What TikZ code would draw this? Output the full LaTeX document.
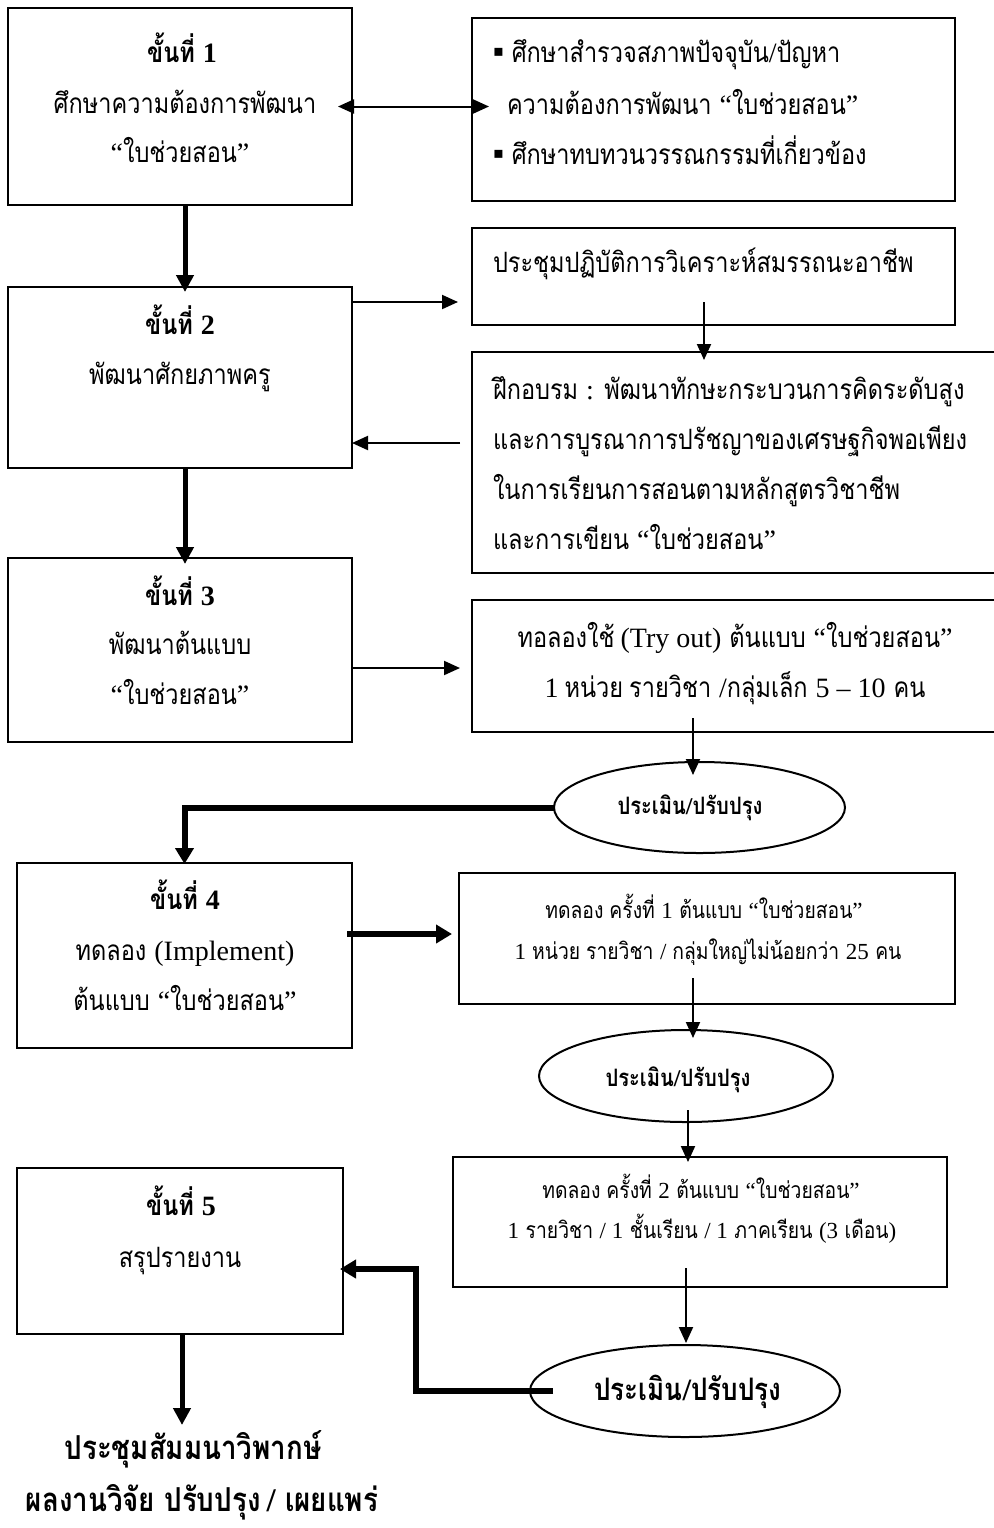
\documentclass[tikz,border=0pt]{standalone}
\usepackage{fontspec}
\setmainfont{Liberation Serif}
\newfontfamily\tf[Script=Thai,FakeStretch=0.84]{Loma}
\newfontfamily\dv{DejaVu Sans}
\usetikzlibrary{arrows.meta,shapes.geometric,calc}
\newcommand\lt[1]{{\rmfamily #1}}
\newcommand\bul{{\dv\fontsize{8}{8}\selectfont\raisebox{3pt}{▪}}}
\newcommand\gapsp{\hspace{3pt}}
\tikzset{
  box/.style={draw, line width=1pt, rectangle, inner sep=0pt, outer sep=0pt},
  openbox/.style={rectangle, inner sep=0pt, outer sep=0pt},
  oval/.style={draw, line width=1pt, ellipse, inner sep=0pt, outer sep=0pt},
  txt/.style={inner sep=0pt, outer sep=0pt, anchor=base, font=\tf\fontsize{14}{17}\selectfont},
  ltxt/.style={txt, anchor=base west},
  btxt/.style={txt, font=\tf\bfseries\fontsize{14}{17}\selectfont},
  stxt/.style={txt, font=\tf\fontsize{11.5}{14}\selectfont},
  etxt/.style={txt, font=\tf\bfseries\fontsize{12}{15}\selectfont},
  e3txt/.style={txt, font=\tf\bfseries\fontsize{15.5}{18}\selectfont},
  ftxt/.style={txt, font=\tf\bfseries\fontsize{16.5}{19}\selectfont},
  thinarr/.style={line width=1pt, -{Triangle[length=8pt,width=7pt]}},
  dblarr/.style={line width=1pt, {Triangle[length=8pt,width=7pt]}-{Triangle[length=8pt,width=7pt]}},
  thickarr/.style={line width=2.5pt, -{Triangle[length=8.5pt,width=8.5pt]}},
  elbowarr/.style={line width=3pt, -{Triangle[length=8pt,width=9pt]}}
}
\begin{document}
\begin{tikzpicture}[x=0.5pt,y=-0.5pt]
\useasboundingbox[fill=white] (0,0) rectangle (993,1528);

% boxes
\node[box, minimum width=172pt, minimum height=98.5pt] (b1) at (180,106.5) {};
\node[box, minimum width=241.5pt, minimum height=91.5pt] (r1) at (713.5,109.5) {};
\node[box, minimum width=172pt, minimum height=90.5pt] (b2) at (180,377.5) {};
\node[box, minimum width=241.5pt, minimum height=48.5pt] (r2) at (713.5,276.5) {};
\node[openbox, minimum width=264pt, minimum height=110.5pt] (r3) at (736,462.5) {};
\draw[line width=1pt] (r3.north east) -- (r3.north west) -- (r3.south west) -- (r3.south east);
\node[box, minimum width=172pt, minimum height=92pt] (b3) at (180,650) {};
\node[openbox, minimum width=264pt, minimum height=66pt] (r4) at (736,666) {};
\draw[line width=1pt] (r4.north east) -- (r4.north west) -- (r4.south west) -- (r4.south east);
\node[oval, minimum width=145.5pt, minimum height=45.5pt] (e1) at (699.5,807.5) {};
\node[box, minimum width=167.5pt, minimum height=92.5pt] (b4) at (184.5,955.5) {};
\node[box, minimum width=248pt, minimum height=65.5pt] (r5) at (707,938.5) {};
\node[oval, minimum width=147pt, minimum height=46pt] (e2) at (686,1076) {};
\node[box, minimum width=247pt, minimum height=65pt] (r6) at (700,1222) {};
\node[box, minimum width=163pt, minimum height=83pt] (b5) at (180,1251) {};
\node[oval, minimum width=155pt, minimum height=46pt] (e3) at (685,1391) {};

% texts
\node[btxt] (b1a) at (182,62) {ขั้นที่ \lt{1}};
\node[txt] (b1b) at (185,113) {ศึกษาความต้องการพัฒนา};
\node[txt] (b1c) at (180,162) {\lt{“}ใบช่วยสอน\lt{”}};

\node[ltxt] (r1a) at (493,62) {\bul\ ศึกษาสำรวจสภาพปัจจุบัน\lt{/}ปัญหา};
\node[ltxt] (r1b) at (507,114) {ความต้องการพัฒนา \lt{“}ใบช่วยสอน\lt{”}};
\node[ltxt] (r1c) at (493,164) {\bul\ ศึกษาทบทวนวรรณกรรมที่เกี่ยวข้อง};

\node[btxt] (b2a) at (180,334) {ขั้นที่ \lt{2}};
\node[txt] (b2b) at (180,384) {พัฒนาศักยภาพครู};

\node[ltxt] (r2a) at (493,272) {ประชุมปฏิบัติการวิเคราะห์สมรรถนะอาชีพ};

\node[ltxt] (r3a) at (493,399) {ฝึกอบรม \lt{:} พัฒนาทักษะกระบวนการคิดระดับสูง};
\node[ltxt] (r3b) at (493,449) {และการบูรณาการปรัชญาของเศรษฐกิจพอเพียง};
\node[ltxt] (r3c) at (493,499) {ในการเรียนการสอนตามหลักสูตรวิชาชีพ};
\node[ltxt] (r3d) at (493,549) {และการเขียน \lt{“}ใบช่วยสอน\lt{”}};

\node[btxt] (b3a) at (180,605) {ขั้นที่ \lt{3}};
\node[txt] (b3b) at (180,654) {พัฒนาต้นแบบ};
\node[txt] (b3c) at (180,704) {\lt{“}ใบช่วยสอน\lt{”}};

\node[txt] (r4a) at (735,647) {ทอลองใช้\gapsp\lt{(Try out)} ต้นแบบ \lt{“}ใบช่วยสอน\lt{”}};
\node[txt] (r4b) at (735,697) {\lt{1}\gapsp หน่วย\gapsp รายวิชา \lt{/}กลุ่มเล็ก \lt{5 – 10} คน};

\node[etxt] (e1t) at (690,814) {ประเมิน\lt{/}ปรับปรุง};

\node[btxt] (b4a) at (185,909) {ขั้นที่ \lt{4}};
\node[txt] (b4b) at (185,960) {ทดลอง \lt{(Implement)}};
\node[txt] (b4c) at (185,1010) {ต้นแบบ \lt{“}ใบช่วยสอน\lt{”}};

\node[stxt] (r5a) at (704,918) {ทดลอง\gapsp ครั้งที่ \lt{1} ต้นแบบ \lt{“}ใบช่วยสอน\lt{”}};
\node[stxt] (r5b) at (708,959) {\lt{1}\gapsp หน่วย\gapsp รายวิชา \lt{/}\gapsp กลุ่มใหญ่ไม่น้อยกว่า \lt{25} คน};

\node[etxt] (e2t) at (678,1086) {ประเมิน\lt{/}ปรับปรุง};

\node[stxt] (r6a) at (701,1198) {ทดลอง\gapsp ครั้งที่ \lt{2} ต้นแบบ \lt{“}ใบช่วยสอน\lt{”}};
\node[stxt] (r6b) at (702,1238) {\lt{1} รายวิชา \lt{/}\gapsp\lt{1} ชั้นเรียน \lt{/ 1} ภาคเรียน \lt{(3} เดือน\lt{)}};

\node[btxt] (b5a) at (181,1215) {ขั้นที่ \lt{5}};
\node[txt] (b5b) at (180,1267) {สรุปรายงาน};

\node[e3txt] (e3t) at (688,1400) {ประเมิน\lt{/}ปรับปรุง};

\node[ftxt] (f1) at (193,1459) {ประชุมสัมมนาวิพากษ์};
\node[ftxt] (f2) at (202,1511) {ผลงานวิจัย ปรับปรุง\gapsp\lt{/} เผยแพร่};

% connectors
\draw[dblarr, shorten <=-7pt, shorten >=-8.5pt] (b1.east) -- (b1.east -| r1.west);
\draw[thickarr, shorten >=-2.5pt] ([xshift=2.5pt]b1.south) -- ([xshift=2.5pt]b2.north);
\coordinate (c1) at ([yshift=-7.5pt]b2.north east);
\draw[thinarr, shorten >=7pt] (c1) -- (c1 -| r2.west);
\coordinate (c2) at ([xshift=-4.75pt,yshift=11.5pt]r2.south);
\draw[thinarr, shorten >=-4pt] (c2) -- (c2 |- r3.north);
\coordinate (c3) at ([xshift=-6pt,yshift=9.75pt]r3.west);
\draw[thinarr] (c3) -- (c3 -| b2.east);
\draw[thickarr, shorten >=-3pt] ([xshift=2.5pt]b2.south) -- ([xshift=2.5pt]b3.north);
\coordinate (c4) at ([yshift=-9pt]b3.east);
\draw[thinarr, shorten >=6pt] (c4) -- (c4 -| r4.west);
\coordinate (c5) at ([xshift=-21.5pt,yshift=7pt]r4.south);
\draw[thinarr, shorten >=-6.5pt] (c5) -- (c5 |- e1.north);
\draw[elbowarr, shorten >=-0.5pt] (e1.west) -| (b4.north);
\coordinate (c6) at ([xshift=-2.5pt,yshift=10.75pt]b4.east);
\draw[elbowarr, shorten >=3.5pt] (c6) -- (c6 -| r5.west);
\coordinate (c7) at ([xshift=-7pt,yshift=13pt]r5.south);
\draw[thinarr, shorten >=-4pt] (c7) -- (c7 |- e2.north);
\coordinate (c8) at ([xshift=1pt,yshift=6pt]e2.south);
\draw[thinarr, shorten >=-2.5pt] (c8) -- (c8 |- r6.north);
\coordinate (c9) at ([xshift=-7pt,yshift=9.5pt]r6.south);
\draw[thinarr, shorten >=1pt] (c9) -- (c9 |- e3.north);
\coordinate (c10) at ([xshift=11.5pt]e3.west);
\coordinate (c11) at ([xshift=36.5pt,yshift=-9pt]b5.east);
\draw[elbowarr, shorten >=-1.5pt] (c10) -| (c11) -- (c11 -| b5.east);
\draw[thickarr] ([xshift=1pt]b5.south) -- ++(0,91);
\end{tikzpicture}
\end{document}
